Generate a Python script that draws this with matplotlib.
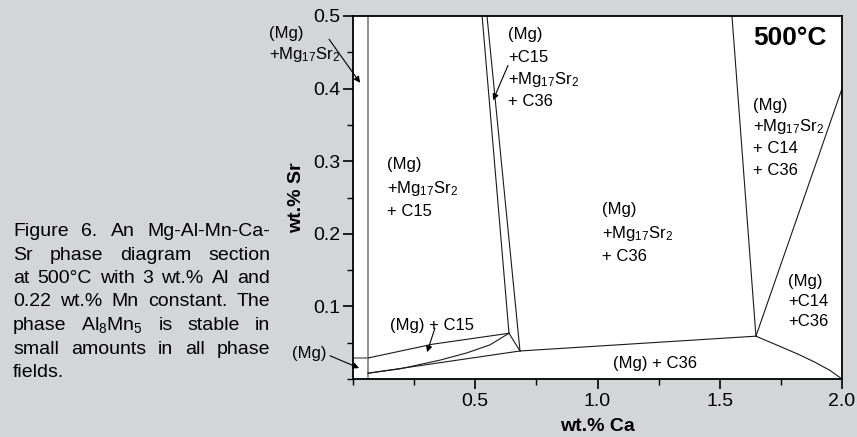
import numpy as np
import matplotlib
matplotlib.use('Agg')
import matplotlib.pyplot as plt

plt.rcParams['font.family'] = ['Liberation Sans', 'DejaVu Sans']
plt.rcParams['mathtext.fontset'] = 'custom'
plt.rcParams['mathtext.rm'] = 'Liberation Sans'
plt.rcParams['mathtext.it'] = 'Liberation Sans:italic'
plt.rcParams['mathtext.bf'] = 'Liberation Sans:bold'

bg = '#d4d5d7'

# phase boundaries (wt.% Ca, wt.% Sr)
mg_limit_ca = [0.062, 0.062]
mg_limit_sr = [0.0, 0.5]
mg_sr_limit_ca = [0.0, 0.062]
mg_sr_limit_sr = [0.029, 0.029]
c15_upper_ca = [0.062, 0.327, 0.638]
c15_upper_sr = [0.029, 0.048, 0.063]
c15_lower_ca = [0.062, 0.192, 0.356, 0.466, 0.560, 0.638]
c15_lower_sr = [0.008, 0.014, 0.026, 0.036, 0.047, 0.063]
c36_lower_ca = [0.062, 0.683]
c36_lower_sr = [0.008, 0.0386]
tie_ca = [0.638, 0.683]
tie_sr = [0.063, 0.0386]
mid_left_ca = [0.528, 0.638]
mid_left_sr = [0.5, 0.063]
mid_right_ca = [0.548, 0.683]
mid_right_sr = [0.5, 0.0386]
c36_base_ca = [0.683, 1.648]
c36_base_sr = [0.0386, 0.059]
right_vert_ca = [1.550, 1.648]
right_vert_sr = [0.5, 0.059]
c14_upper_ca = [1.648, 2.0]
c14_upper_sr = [0.059, 0.40]
c14_lower_ca = [1.648, 1.700, 1.760, 1.828, 1.890, 1.950, 2.0]
c14_lower_sr = [0.059, 0.0515, 0.0430, 0.0330, 0.0230, 0.0120, 0.0]

x_ticks = [0.5, 1.0, 1.5, 2.0]
y_ticks = [0.1, 0.2, 0.3, 0.4, 0.5]

caption_lines = ['Figure 6. An Mg-Al-Mn-Ca-',
                 'Sr phase diagram section',
                 'at 500°C with 3 wt.% Al and',
                 '0.22 wt.% Mn constant. The',
                 'phase Al$_8$Mn$_5$ is stable in',
                 'small amounts in all phase',
                 'fields.']

fig = plt.figure(figsize=(8.57, 4.37), dpi=100, facecolor=bg)
ax = fig.add_axes([353/857, 1-379/437, (842-353)/857, (379-16)/437])
ax.set_facecolor('white')
ax.set_xlim(0, 2.0)
ax.set_ylim(0, 0.5)

ax.plot(mg_limit_ca, mg_limit_sr, color='#8f8f8f', lw=1.4)
ax.plot(mg_sr_limit_ca, mg_sr_limit_sr, color='#8f8f8f', lw=1.4)
blk = dict(color='#1a1a1a', lw=0.8)
for xs, ys in [(c15_upper_ca, c15_upper_sr), (c15_lower_ca, c15_lower_sr),
               (c36_lower_ca, c36_lower_sr), (tie_ca, tie_sr),
               (mid_left_ca, mid_left_sr), (mid_right_ca, mid_right_sr),
               (c36_base_ca, c36_base_sr), (right_vert_ca, right_vert_sr),
               (c14_upper_ca, c14_upper_sr), (c14_lower_ca, c14_lower_sr)]:
    ax.plot(xs, ys, **blk)

ax.set_xticks(x_ticks)
ax.set_xticklabels(['%.1f' % v for v in x_ticks])
ax.set_yticks(y_ticks)
ax.set_yticklabels(['%.1f' % v for v in y_ticks])
ax.set_xticks(np.arange(0, 2.01, 0.25), minor=True)
ax.set_yticks(np.arange(0, 0.51, 0.05), minor=True)
ax.tick_params(which='major', direction='out', length=7, width=1.2, labelsize=14, pad=2)
ax.tick_params(which='minor', direction='out', length=4, width=1.0)
ax.tick_params(axis='x', which='major', pad=3)
for s in ax.spines.values():
    s.set_linewidth(1.3)
ax.set_xlabel('wt.% Ca', fontsize=14, fontweight='bold', labelpad=6)
ax.set_ylabel('wt.% Sr', fontsize=14, fontweight='bold', labelpad=6)


def label(x, y, lines, gap=22, fs=12):
    for i, s in enumerate(lines):
        ax.annotate(s, (x, y), xytext=(0, -i*gap*0.72), textcoords='offset points',
                    fontsize=fs, va='baseline', ha='left', annotation_clip=False)


label(-0.344, 0.470, ['(Mg)', '+Mg$_{17}$Sr$_2$'], gap=21)
label(0.139, 0.289, ['(Mg)', '+Mg$_{17}$Sr$_2$', '+ C15'], gap=23.5)
label(0.634, 0.468, ['(Mg)', '+C15', '+Mg$_{17}$Sr$_2$', '+ C36'], gap=22.3)
label(1.018, 0.227, ['(Mg)', '+Mg$_{17}$Sr$_2$', '+ C36'], gap=23.5)
label(1.636, 0.371, ['(Mg)', '+Mg$_{17}$Sr$_2$', '+ C14', '+ C36'], gap=21.7)
label(1.779, 0.128, ['(Mg)', '+C14', '+C36'], gap=20)
label(0.151, 0.0675, ['(Mg) + C15'])
label(1.063, 0.015, ['(Mg) + C36'])
label(-0.249, 0.029, ['(Mg)'])
ax.text(1.939, 0.46, '500°C', fontsize=19, fontweight='bold', ha='right', va='baseline')

arrow = dict(arrowstyle='-|>', lw=0.8, color='black', mutation_scale=9, shrinkA=0, shrinkB=0)
ax.annotate('', xy=(0.029, 0.408), xytext=(-0.098, 0.468), arrowprops=arrow, annotation_clip=False)
ax.annotate('', xy=(0.025, 0.015), xytext=(-0.094, 0.032), arrowprops=arrow, annotation_clip=False)
ax.annotate('', xy=(0.303, 0.037), xytext=(0.335, 0.070), arrowprops=arrow)
ax.annotate('', xy=(0.573, 0.384), xytext=(0.634, 0.432), arrowprops=arrow)

# justified caption block
x0, x1 = 13, 270
fig.canvas.draw()
r = fig.canvas.get_renderer()
for i, line in enumerate(caption_lines):
    yb = 1 - (236 + i*23.5)/437
    words = line.split(' ')
    texts = [fig.text(x0/857, yb, w, fontsize=14, va='baseline', ha='left') for w in words]
    if i == len(caption_lines) - 1 or len(words) == 1:
        xc = x0
        for t in texts:
            t.set_x(xc/857)
            xc += t.get_window_extent(r).width + 4
        continue
    widths = [t.get_window_extent(r).width for t in texts]
    gap = (x1 - x0 - sum(widths)) / (len(words) - 1)
    xc = x0
    for t, w in zip(texts, widths):
        t.set_x(xc/857)
        xc += w + gap

fig.savefig('out.png', dpi=100, facecolor=bg)
